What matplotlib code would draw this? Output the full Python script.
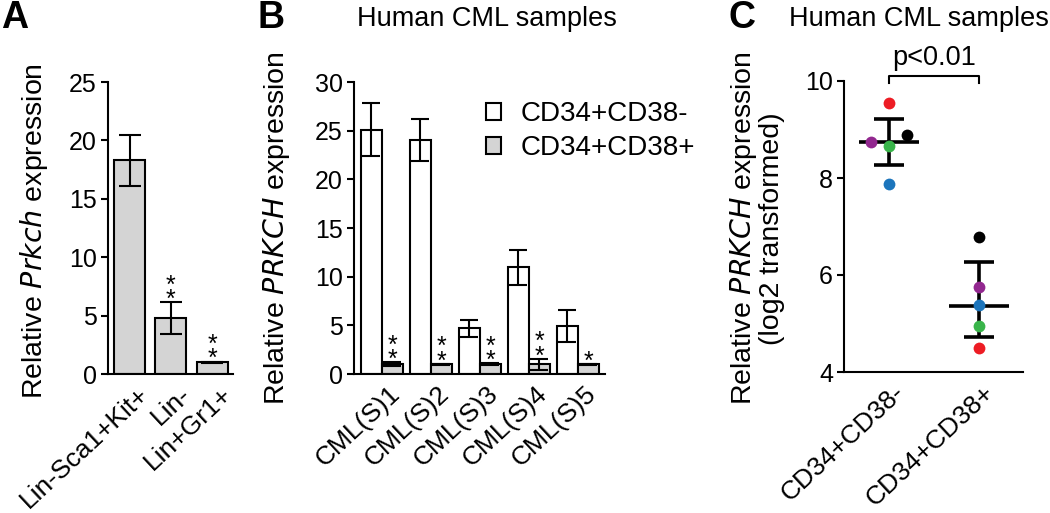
import matplotlib
matplotlib.use("Agg")
import matplotlib.pyplot as plt
from matplotlib.patches import Patch
from matplotlib.transforms import ScaledTranslation
import numpy as np

plt.rcParams["font.family"] = ["Liberation Sans", "DejaVu Sans"]
plt.rcParams["font.size"] = 18

# --- Panel A data ---
a_labels = ["Lin-Sca1+Kit+", "Lin-", "Lin+Gr1+"]
a_vals = [18.3, 4.8, 1.0]
a_err = [2.2, 1.35, 0.06]
a_stars = ["", "**", "**"]

# --- Panel B data ---
b_labels = ["CML(S)1", "CML(S)2", "CML(S)3", "CML(S)4", "CML(S)5"]
b_neg = [25.1, 24.0, 4.7, 10.95, 4.93]
b_neg_err = [2.7, 2.15, 0.85, 1.8, 1.6]
b_pos = [1.0, 1.0, 1.0, 1.0, 1.0]
b_pos_err = [0.2, 0.05, 0.1, 0.55, 0.06]
b_stars = ["**", "**", "**", "**", "*"]

# --- Panel C data ---
c_labels = ["CD34+CD38-", "CD34+CD38+"]
c_colors = ["#ed1c24", "#000000", "#92278f", "#39b54a", "#1c75bc"]
c_neg = [9.54, 8.89, 8.74, 8.65, 7.88]
c_neg_jit = [0.0, 0.2, -0.2, 0.0, 0.0]
c_pos = [4.49, 6.78, 5.76, 4.95, 5.38]
c_pos_jit = [0.0, 0.0, 0.0, 0.0, 0.0]
c_mean = [8.74, 5.37]
c_lo = [8.27, 4.72]
c_hi = [9.22, 6.26]

GREY = "#d4d4d4"
LW = 1.5
FS_TICK = 18
FS_XT = 19
FS_LAB = 20.5
FS_TXT = 19.5
ROT = 43

fig = plt.figure(figsize=(10.5, 5.13), dpi=100)


def style_axis(ax, dx=5, dy=-2):
    for s in ["top", "right"]:
        ax.spines[s].set_visible(False)
    for s in ["left", "bottom"]:
        ax.spines[s].set_linewidth(LW)
    ax.tick_params(axis="y", length=5, width=LW, labelsize=FS_TICK, pad=3)
    ax.tick_params(axis="x", length=0, labelsize=FS_XT, pad=5)
    off = ScaledTranslation(dx / 100, dy / 100, fig.dpi_scale_trans)
    for lab in ax.get_xticklabels():
        lab.set_transform(lab.get_transform() + off)


def add_stars(ax, x, y, s):
    if not s:
        return
    ax.annotate("\n".join(s), (x, y), xytext=(0, -7), textcoords="offset points",
                ha="center", va="bottom", fontsize=18, linespacing=0.5,
                annotation_clip=False)


# ---------------- A ----------------
axA = fig.add_axes([108 / 1050, 1 - 374 / 513, 125 / 1050, 292 / 513])
xa = np.arange(len(a_vals))
axA.bar(xa, a_vals, width=0.75, color=GREY, edgecolor="black", linewidth=LW)
axA.errorbar(xa, a_vals, yerr=a_err, fmt="none", ecolor="black", elinewidth=LW,
             capsize=8, capthick=LW)
for x, v, e, s in zip(xa, a_vals, a_err, a_stars):
    add_stars(axA, x, v + e, s)
axA.set_xlim(-0.52, 2.5)
axA.set_ylim(0, 25)
axA.set_yticks([0, 5, 10, 15, 20, 25])
axA.set_xticks(xa)
axA.set_xticklabels(a_labels, rotation=ROT, ha="right", rotation_mode="anchor")
axA.set_ylabel("Relative $\\it{Prkch}$ expression", fontsize=FS_LAB)
axA.yaxis.set_label_coords(-0.46, 0.488)
style_axis(axA, dx=8, dy=-1)

# ---------------- B ----------------
axB = fig.add_axes([354 / 1050, 1 - 374 / 513, 251 / 1050, 292 / 513])
xb = np.arange(len(b_neg))
w = 0.43
axB.bar(xb - w / 2, b_neg, width=w, color="white", edgecolor="black", linewidth=LW,
        label="CD34+CD38-")
axB.bar(xb + w / 2, b_pos, width=w, color=GREY, edgecolor="black", linewidth=LW,
        label="CD34+CD38+")
axB.errorbar(xb - w / 2, b_neg, yerr=b_neg_err, fmt="none", ecolor="black",
             elinewidth=LW, capsize=6.5, capthick=LW)
axB.errorbar(xb + w / 2, b_pos, yerr=b_pos_err, fmt="none", ecolor="black",
             elinewidth=LW, capsize=6.5, capthick=LW)
for x, v, e, s in zip(xb + w / 2, b_pos, b_pos_err, b_stars):
    add_stars(axB, x, v + e, s)
axB.set_xlim(-0.565, 4.56)
axB.set_ylim(0, 30)
axB.set_yticks([0, 5, 10, 15, 20, 25, 30])
axB.set_xticks(xb)
axB.set_xticklabels(b_labels, rotation=ROT, ha="right", rotation_mode="anchor")
axB.set_ylabel("Relative $\\it{PRKCH}$ expression", fontsize=FS_LAB)
axB.yaxis.set_label_coords(-0.247, 0.498)
style_axis(axB, dx=7, dy=-1)
handles = [Patch(facecolor="white", edgecolor="black", linewidth=LW),
           Patch(facecolor=GREY, edgecolor="black", linewidth=LW)]
axB.legend(handles, ["CD34+CD38-", "CD34+CD38+"], loc="upper left",
           bbox_to_anchor=(0.525, 0.935), frameon=False, fontsize=FS_TXT + 0.5,
           handlelength=0.55, handleheight=0.55, handletextpad=0.7,
           labelspacing=0.3, borderpad=0, borderaxespad=0)

# ---------------- C ----------------
axC = fig.add_axes([844 / 1050, 1 - 372 / 513, 179 / 1050, 291 / 513])
for gi, (vals, jit) in enumerate([(c_neg, c_neg_jit), (c_pos, c_pos_jit)]):
    axC.plot([gi - 0.33, gi + 0.33], [c_mean[gi]] * 2, color="black", lw=2.6,
             solid_capstyle="butt", zorder=2)
    axC.errorbar([gi], [c_mean[gi]],
                 yerr=[[c_mean[gi] - c_lo[gi]], [c_hi[gi] - c_mean[gi]]],
                 fmt="none", ecolor="black", elinewidth=2.6, capsize=11,
                 capthick=2.6, zorder=2)
    for v, j, c in zip(vals, jit, c_colors):
        axC.plot(gi + j, v, "o", color=c, markersize=8.5, markeredgewidth=0, zorder=3)
axC.set_xlim(-0.5, 1.49)
axC.set_ylim(4, 10)
axC.set_yticks([4, 6, 8, 10])
axC.set_xticks([0, 1])
axC.set_xticklabels(c_labels, rotation=ROT, ha="right", rotation_mode="anchor")
axC.set_ylabel("Relative $\\it{PRKCH}$ expression\n(log2 transformed)",
               fontsize=FS_LAB, linespacing=1.0)
axC.yaxis.set_label_coords(-0.33, 0.493)
style_axis(axC, dx=4, dy=-1)
axC.plot([0, 0, 1, 1], [9.96, 10.1, 10.1, 9.96], color="black", lw=LW, clip_on=False)
axC.text(0.5, 10.2, "p<0.01", ha="center", va="bottom", fontsize=FS_TXT)

# titles and panel letters
fig.text(486.7 / 1050, 1 - 19 / 513, "Human CML samples", ha="center", va="center",
         fontsize=FS_TXT)
fig.text(919 / 1050, 1 - 19 / 513, "Human CML samples", ha="center", va="center",
         fontsize=FS_TXT)
for x, lab in [(1, "A"), (258, "B"), (728, "C")]:
    fig.text(x / 1050, 1 - 18 / 513, lab, ha="left", va="center", fontsize=27,
             fontweight="bold")

fig.savefig("out.png", dpi=100)
